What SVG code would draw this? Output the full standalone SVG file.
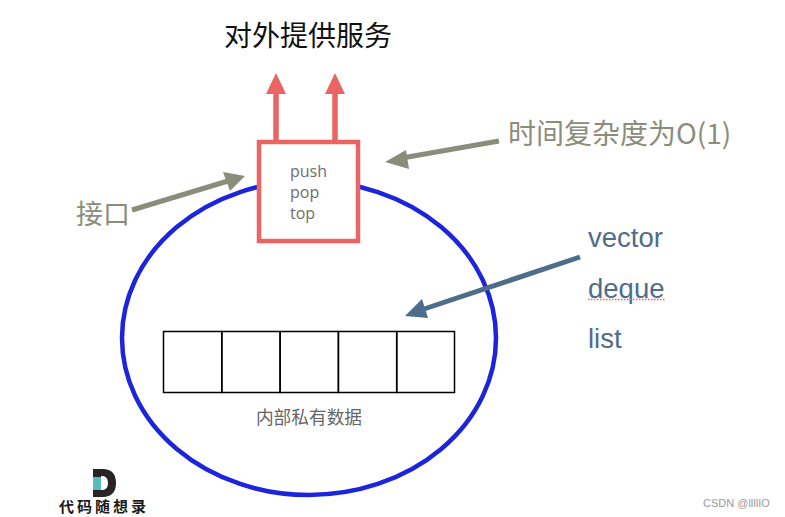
<svg xmlns="http://www.w3.org/2000/svg" width="785" height="517" viewBox="0 0 785 517">
<style>
.cjk{font-family:"Noto Sans CJK SC","Liberation Sans",sans-serif}
.lat{font-family:"Liberation Sans",sans-serif}
.gr{fill:#8b8d7b}
.bl{fill:#4e6d8b;font-size:27.5px}
.mono{fill:#6e6e6e;font-size:16px;font-family:"Open Sans",sans-serif}
.cell{fill:none;stroke:#000;stroke-width:1.5}
.red{stroke:#ea6464;stroke-width:5.5;fill:none}
.olive{stroke:#8b8d7b;stroke-width:5;fill:none}
</style>
<rect width="785" height="517" fill="#fff"/>
<g id="private-data">
<ellipse cx="309" cy="338" rx="187" ry="157" fill="none" stroke="#1c24dc" stroke-width="4.5"/>
<rect class="cell" x="163.500" y="331.500" width="58.300" height="61"/>
<rect class="cell" x="221.800" y="331.500" width="58.300" height="61"/>
<rect class="cell" x="280.100" y="331.500" width="58.300" height="61"/>
<rect class="cell" x="338.400" y="331.500" width="58.300" height="61"/>
<rect class="cell" x="396.700" y="331.500" width="57.800" height="61"/>
<text class="cjk" x="309" y="424" font-size="17.700" fill="#666" text-anchor="middle">内部私有数据</text>
</g>
<g id="interface-box">
<rect x="259" y="142" width="99" height="99" fill="#fff" stroke="#ea6464" stroke-width="4.500"/>
<text class="mono" x="290" y="177">push</text>
<text class="mono" x="290" y="198">pop</text>
<text class="mono" x="290" y="219">top</text>
</g>
<g id="connectors">
<path class="red" d="M276 140V90"/>
<polygon points="276,73 266,94 286,94" fill="#ea6464"/>
<path class="red" d="M335 140V90"/>
<polygon points="335,73 325,94 345,94" fill="#ea6464"/>
<path class="olive" d="M132 210L228 181"/>
<polygon points="245,176 223,172 230,191" fill="#8b8d7b"/>
<path class="olive" d="M499 141L402 158"/>
<polygon points="385,162 406,150 409,169" fill="#8b8d7b"/>
<path d="M580 257L424 309" fill="none" stroke="#4e6d8b" stroke-width="5"/>
<polygon points="405,316 422,299 428,318" fill="#4e6d8b"/>
</g>
<g id="title"><text class="cjk" x="308" y="46" font-size="28" fill="#111" text-anchor="middle">对外提供服务</text></g>
<g id="label-interface"><text class="cjk gr" x="76" y="224" font-size="27">接口</text></g>
<g id="label-complexity"><text class="cjk gr" x="508" y="144" font-size="28">时间复杂度为O(1)</text></g>
<g id="label-containers">
<text class="lat bl" x="588" y="247">vector</text>
<text class="lat bl" x="588" y="298">deque</text>
<path d="M588 299.500H666" stroke="#f06060" stroke-width="1.500" stroke-dasharray="1.500 1.500" fill="none"/>
<text class="lat bl" x="588" y="348">list</text>
</g>
<g id="logo">
<path d="M93 469H104Q116 470 116 483Q116 496 104 497H93Z" fill="#2a2323"/>
<rect x="93" y="477" width="8" height="13" fill="#56bcc0"/>
<path d="M101 476H103Q108 477 108 483Q108 489 103 490H101Z" fill="#fff"/>
<text class="cjk" x="104" y="512" font-size="15" font-weight="700" letter-spacing="3" fill="#1a1a1a" text-anchor="middle">代码随想录</text>
</g>
<g id="watermark"><text class="lat" x="703" y="507" font-size="11" fill="#9a9a9a">CSDN @llllIO</text></g>
</svg>
